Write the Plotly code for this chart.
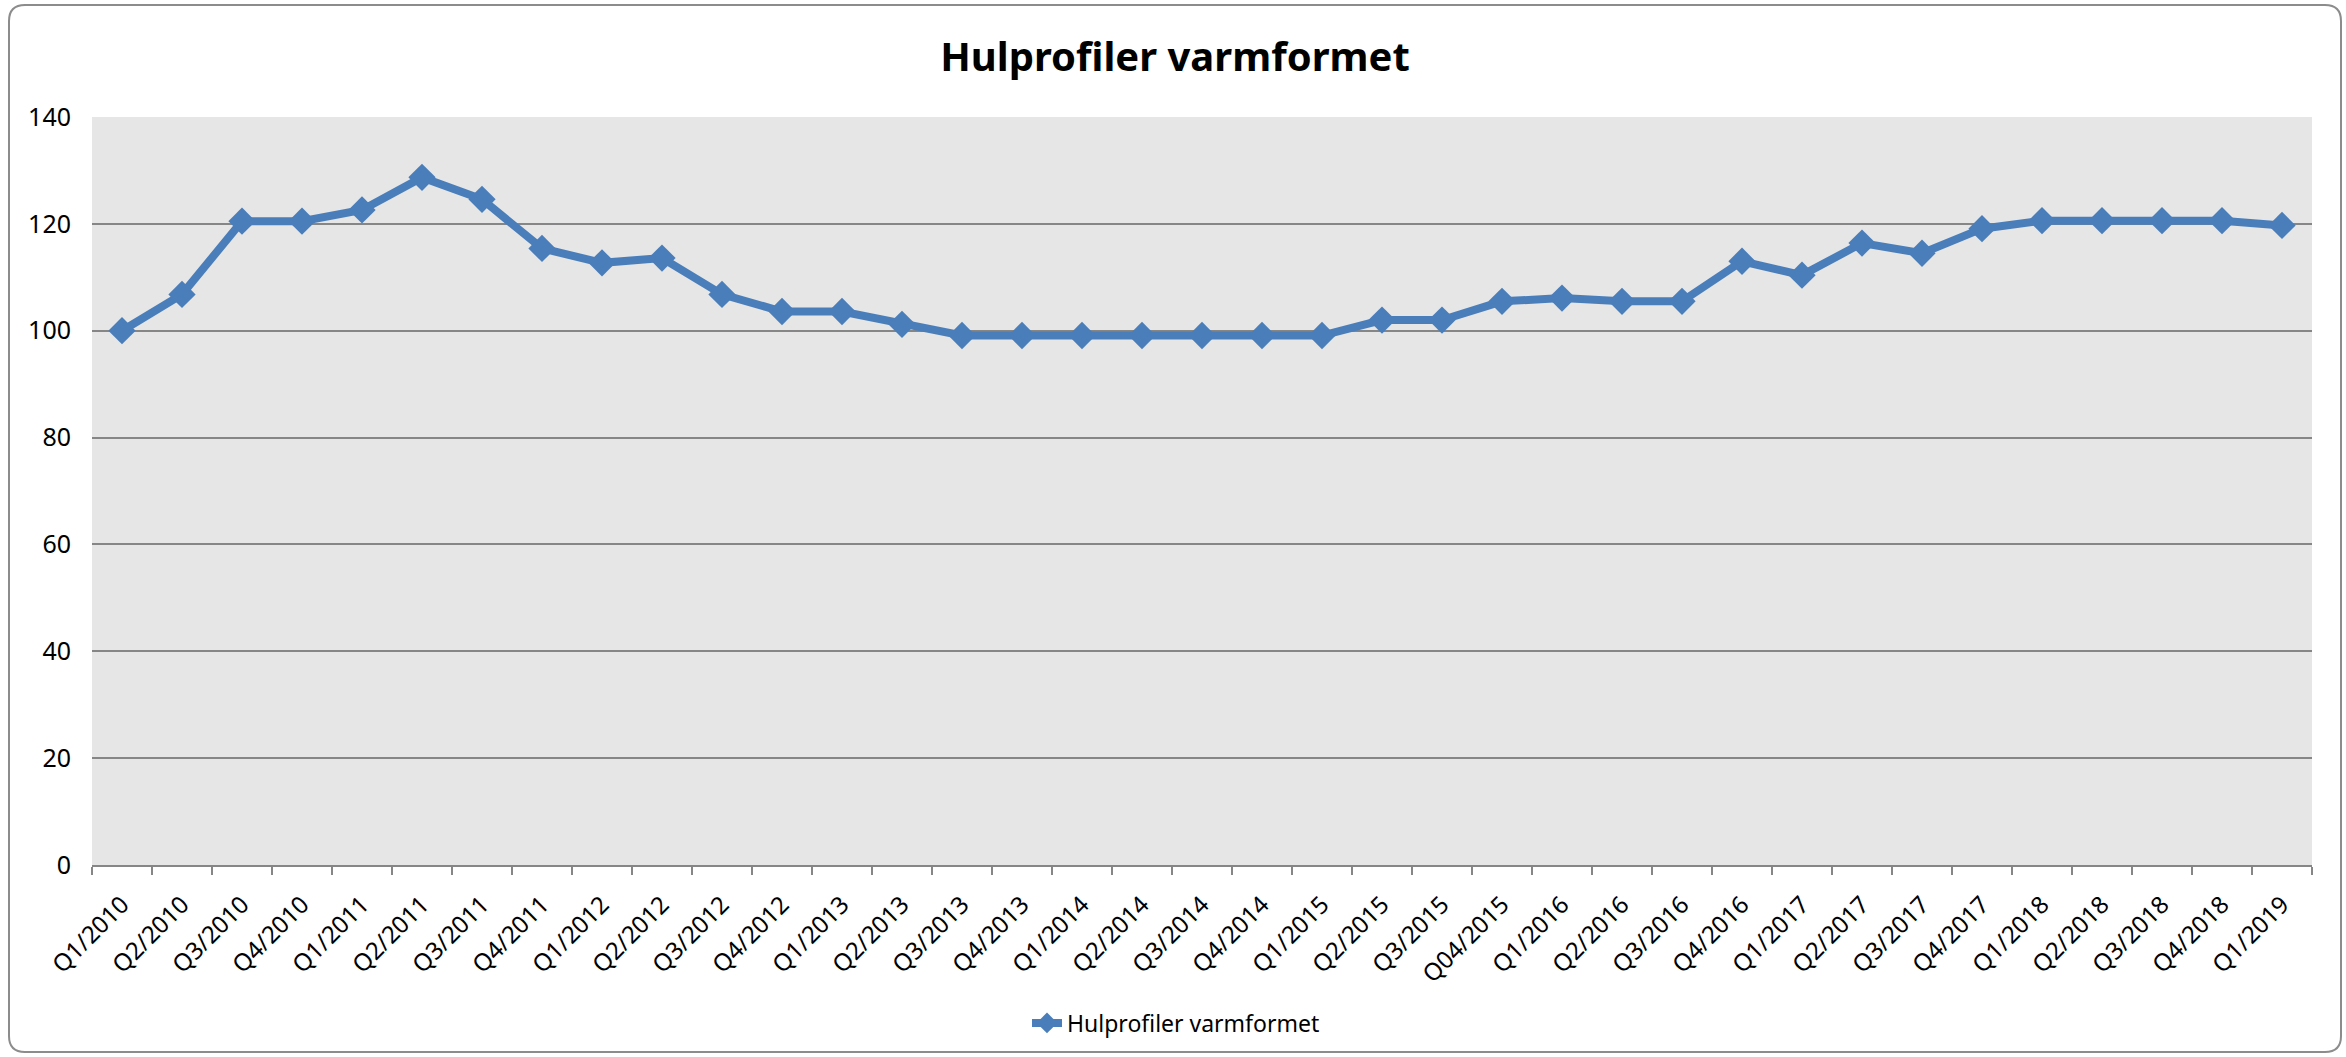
"""
Line chart of the steel price index for hot-finished hollow sections,
quarterly from Q1/2010 to Q1/2019, recreated with Plotly.
"""
import plotly.graph_objects as go

# --- data ---------------------------------------------------------------
quarters = [
    "Q1/2010", "Q2/2010", "Q3/2010", "Q4/2010",
    "Q1/2011", "Q2/2011", "Q3/2011", "Q4/2011",
    "Q1/2012", "Q2/2012", "Q3/2012", "Q4/2012",
    "Q1/2013", "Q2/2013", "Q3/2013", "Q4/2013",
    "Q1/2014", "Q2/2014", "Q3/2014", "Q4/2014",
    "Q1/2015", "Q2/2015", "Q3/2015", "Q04/2015",
    "Q1/2016", "Q2/2016", "Q3/2016", "Q4/2016",
    "Q1/2017", "Q2/2017", "Q3/2017", "Q4/2017",
    "Q1/2018", "Q2/2018", "Q3/2018", "Q4/2018",
    "Q1/2019",
]
index_values = [
    100.0, 106.8, 120.5, 120.5,
    122.6, 128.7, 124.6, 115.4,
    112.7, 113.6, 106.8, 103.6,
    103.6, 101.2, 99.1, 99.1,
    99.1, 99.1, 99.1, 99.1,
    99.1, 102.0, 102.0, 105.5,
    106.1, 105.5, 105.5, 113.0,
    110.4, 116.4, 114.5, 119.1,
    120.6, 120.6, 120.6, 120.6,
    119.7,
]
y_ticks = [0, 20, 40, 60, 80, 100, 120, 140]

series_name = "Hulprofiler varmformet"
chart_title = "Hulprofiler varmformet"

# --- geometry (pixels) --------------------------------------------------
W, H = 2346, 1057
PLOT_L, PLOT_R, PLOT_T, PLOT_B = 92, 2312, 117, 865
BLUE = "#4A7EBB"
GRID = "#868686"
FONT = "Noto Sans"


def px_to_paper(x, y):
    """Convert page pixels to paper coordinates of the plot area."""
    return ((x - PLOT_L) / (PLOT_R - PLOT_L),
            (PLOT_B - y) / (PLOT_B - PLOT_T))


fig = go.Figure()
fig.add_trace(go.Scatter(
    x=quarters, y=index_values, mode="lines+markers", name=series_name,
    line=dict(color=BLUE, width=8),
    marker=dict(symbol="diamond", size=21, color=BLUE),
))

# rounded chart border
x0, y0 = px_to_paper(9, 1052)
x1, y1 = px_to_paper(2341, 5)
rx = 16 / (PLOT_R - PLOT_L)
ry = 16 / (PLOT_B - PLOT_T)
border = (f"M {x0 + rx},{y1} L {x1 - rx},{y1} Q {x1},{y1} {x1},{y1 - ry} "
          f"L {x1},{y0 + ry} Q {x1},{y0} {x1 - rx},{y0} "
          f"L {x0 + rx},{y0} Q {x0},{y0} {x0},{y0 + ry} "
          f"L {x0},{y1 - ry} Q {x0},{y1} {x0 + rx},{y1} Z")
fig.add_shape(type="path", path=border, xref="paper", yref="paper",
              line=dict(color="#8C8C8C", width=2), layer="below")

leg_x, leg_y = px_to_paper(1176, 1023)

fig.update_layout(
    width=W, height=H,
    margin=dict(l=PLOT_L, r=W - PLOT_R, t=PLOT_T, b=H - PLOT_B),
    paper_bgcolor="white", plot_bgcolor="#E6E6E6",
    font=dict(family=FONT, size=24, color="black"),
    title=dict(text=f"<b>{chart_title}</b>", x=1175 / W, xanchor="center",
               y=1 - 57 / H, yanchor="middle", yref="container",
               font=dict(family=FONT, size=40, color="black")),
    showlegend=True,
    legend=dict(orientation="h", x=leg_x, y=leg_y, xanchor="center",
                yanchor="middle", font=dict(size=23)),
    xaxis=dict(type="category", range=[-0.5, len(quarters) - 0.5],
               tickangle=-45, tickson="boundaries", ticks="outside",
               ticklen=8, tickwidth=2, tickcolor=GRID, ticklabelstandoff=14,
               showline=True, linecolor=GRID, linewidth=2,
               showgrid=False, zeroline=False),
    yaxis=dict(range=[0, 140], tickvals=y_ticks, showgrid=True,
               gridcolor=GRID, gridwidth=2, zeroline=False,
               showline=False, ticks="", ticklabelstandoff=20,
               tickfont=dict(size=25)),
)

# page body has a default 8px margin; remove it so the figure sits at 0,0
fig.write_html("out.html", config={"displayModeBar": False},
               post_script="document.body.style.margin='0';")
